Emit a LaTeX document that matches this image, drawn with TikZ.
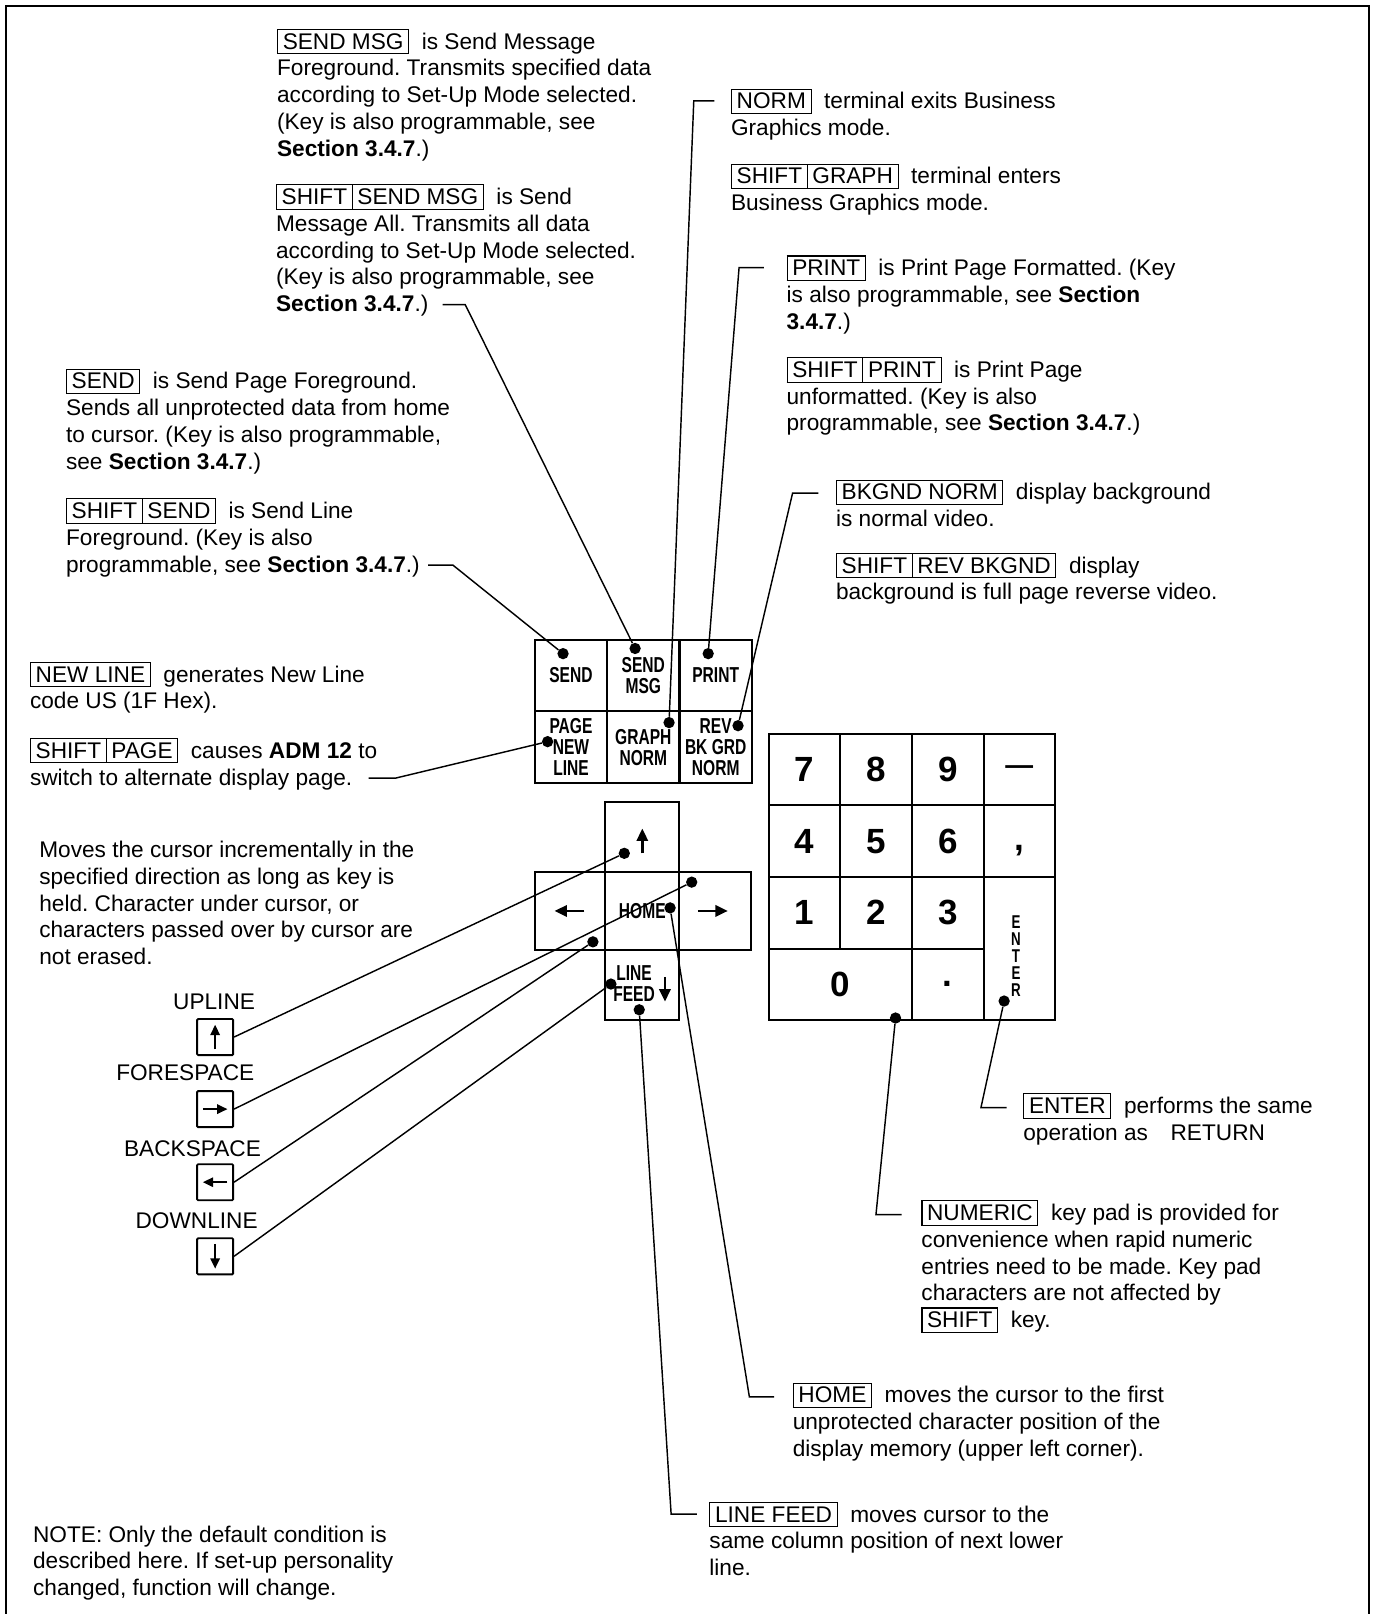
\documentclass[tikz,border=0pt]{standalone}
\usepackage{fontspec}
\setmainfont{Liberation Sans}
\newfontfamily\capfont[FakeStretch=0.72]{Liberation Sans}
\usetikzlibrary{arrows.meta}
\frenchspacing
\newcommand\kbox[1]{{\setlength\fboxsep{2.5pt}\setlength\fboxrule{1pt}\fbox{\rule[-1.5pt]{0pt}{17.5pt}\kern2pt#1\kern2pt}}}
\newcommand\kpair[2]{\kbox{#1}\kern-1pt\kbox{#2}}
\newcommand\sect{\textbf{Section 3.4.7}.)}

\begin{document}
\begin{tikzpicture}[x=1pt, y=-1pt,
    every node/.style={font=\fontsize{22}{26}\selectfont},
    txt/.style={anchor=north west, inner sep=0pt, align=left, execute at begin node=\rule{0pt}{20pt}},
    kt/.style={inner sep=0pt, align=center, font=\capfont\bfseries\fontsize{21}{20.4}\selectfont},
    kc/.style={kt, draw, line width=2pt},
    fk/.style={kc, minimum width=70.3pt, minimum height=69.5pt},
    nk/.style={draw, line width=2pt, inner sep=0pt, minimum width=69.5pt, minimum height=69.5pt, font=\bfseries\fontsize{34}{34}\selectfont},
    sk/.style={draw, line width=1.8pt, rounded corners=1pt, minimum size=35pt, inner sep=0pt},
    dot/.style={circle, fill, inner sep=0pt, minimum size=11pt},
    ldr/.style={line width=1.4pt},
    karr/.style={-{Triangle[length=12pt, width=11pt]}, line width=2.4pt},
    sarr/.style={-{Triangle[length=10pt, width=9pt]}, line width=2pt}
]
\useasboundingbox (0,0) rectangle (1333,1568);
\draw[line width=2.4pt] (6,1568) -- (6,6) -- (1330,6) -- (1330,1568);
% function keys
\node[fk] (ksend)  at (554.7,656.2) {SEND};
\node[fk] (kmsg)   at (625.0,656.2) {SEND\\MSG};
\node[fk] (kprint) at (695.3,656.2) {PRINT};
\node[fk] (kpage)  at (554.7,725.8) {PAGE\\NEW\\LINE};
\node[fk] (kgraph) at (625.0,725.8) {GRAPH\\NORM};
\node[fk] (krev)   at (695.3,725.8) {REV\\BK GRD\\NORM};
% cursor keys
\node[kc, minimum width=72pt, minimum height=68pt] (kup) at (624,813) {};
\node[kc, minimum width=68.5pt, minimum height=76pt] (kleft) at (553.75,885) {};
\node[kc, minimum width=72pt, minimum height=76pt] (khome) at (624,885) {HOME};
\node[kc, minimum width=70pt, minimum height=76pt] (kright) at (695,885) {};
\node[kc, minimum width=72pt, minimum height=68pt] (klf) at (624,957) {};
\node[kt] (llf) at (616,956) {LINE\\FEED};
\draw[karr] ([yshift=-16pt]kup.center) -- ([yshift=8pt]kup.center);
\draw[karr] ([xshift=14pt]kleft.center) -- ([xshift=-15pt]kleft.center);
\draw[karr] ([xshift=-17pt]kright.center) -- ([xshift=12pt]kright.center);
\draw[karr] ([xshift=22pt,yshift=8pt]klf.center) -- ([xshift=22pt,yshift=-16pt]klf.center);
% numeric pad
\node[nk] (n7) at (781.75,747.75) {7};
\node[nk] (n8) at (851.25,747.75) {8};
\node[nk] (n9) at (920.75,747.75) {9};
\node[nk] (nminus) at (990.25,747.75) {\fontsize{27}{27}\selectfont\textemdash};
\node[nk] (n4) at (781.75,817.25) {4};
\node[nk] (n5) at (851.25,817.25) {5};
\node[nk] (n6) at (920.75,817.25) {6};
\node[nk] (ncomma) at (990.25,817.25) {\vphantom{0},};
\node[nk] (n1) at (781.75,886.75) {1};
\node[nk] (n2) at (851.25,886.75) {2};
\node[nk] (n3) at (920.75,886.75) {3};
\node[nk, minimum width=139pt] (n0) at (816.5,956.25) {0};
\node[nk] (ndot) at (920.75,956.25) {.};
\node[nk, minimum height=139pt] (nent) at (990.25,921.5) {};
\node[kt, font=\capfont\bfseries\fontsize{18}{16.5}\selectfont] (lent) at (987,928.5) {E\\N\\T\\E\\R};
% dots
\node[dot] (dsend)  at (547,635) {};
\node[dot] (dmsg)   at (617,630) {};
\node[dot] (dprint) at (688,635) {};
\node[dot] (dpage)  at (532,720.5) {};
\node[dot] (dgraph) at (650,702) {};
\node[dot] (drev)   at (717,705) {};
\node[dot] (dup)    at (606.5,829) {};
\node[dot] (dfore)  at (672,857) {};
\node[dot] (dhome)  at (651,882) {};
\node[dot] (dback)  at (576,915) {};
\node[dot] (ddown)  at (593.5,956) {};
\node[dot] (dlf)    at (621,981) {};
\node[dot] (dnum)   at (870,989) {};
\node[dot] (denter) at (975.5,972.5) {};
% upper texts
\node[txt] (tmsg) at (269,28) {\kbox{SEND MSG}\ \ is Send Message\\Foreground. Transmits specified data\\according to Set-Up Mode selected.\\(Key is also programmable, see\\\sect};
\node[txt] (tsmsg) at (268,179) {\kpair{SHIFT}{SEND MSG}\ \ is Send\\Message All. Transmits all data\\according to Set-Up Mode selected.\\(Key is also programmable, see\\\sect};
\node[txt] (tnorm) at (710,86) {\kbox{NORM}\ \ terminal exits Business\\Graphics mode.};
\node[txt] (tsgraph) at (710,159) {\kpair{SHIFT}{GRAPH}\ \ terminal enters\\Business Graphics mode.};
\node[txt] (tprint) at (764,248) {\kbox{PRINT}\ \ is Print Page Formatted. (Key\\is also programmable, see \textbf{Section}\\\textbf{3.4.7}.)};
\node[txt] (tsprint) at (764,347) {\kpair{SHIFT}{PRINT}\ \ is Print Page\\unformatted. (Key is also\\programmable, see \sect};
\node[txt] (tsend) at (64,358) {\kbox{SEND}\ \ is Send Page Foreground.\\Sends all unprotected data from home\\to cursor. (Key is also programmable,\\see \sect};
\node[txt] (tssend) at (64,484) {\kpair{SHIFT}{SEND}\ \ is Send Line\\Foreground. (Key is also\\programmable, see \sect};
\node[txt] (tbk) at (812,466) {\kbox{BKGND NORM}\ \ display background\\is normal video.};
\node[txt] (tsrev) at (812,537) {\kpair{SHIFT}{REV BKGND}\ \ display\\background is full page reverse video.};
\node[txt] (tnl) at (29,643) {\kbox{NEW LINE}\ \ generates New Line\\code US (1F Hex).};
\node[txt] (tspage) at (29,717) {\kpair{SHIFT}{PAGE}\ \ causes \textbf{ADM 12} to\\switch to alternate display page.};
\node[txt] (tcur) at (38,817) {Moves the cursor incrementally in the\\specified direction as long as key is\\held. Character under cursor, or\\characters passed over by cursor are\\not erased.};
% leaders to upper texts
\coordinate (cmsg1) at (430,296);   \coordinate (cmsg2) at (452,296);
\coordinate (csend1) at (416,549);  \coordinate (csend2) at (440,549);
\coordinate (cnorm1) at (694,98);   \coordinate (cnorm2) at (674,98);
\coordinate (cprint1) at (742,260); \coordinate (cprint2) at (718,260);
\coordinate (cbk1) at (795,479);    \coordinate (cbk2) at (770,479);
\coordinate (cpage1) at (358,756);  \coordinate (cpage2) at (384,756);
\draw[ldr] (cmsg1) -- (cmsg2) -- (dmsg);
\draw[ldr] (csend1) -- (csend2) -- (dsend);
\draw[ldr] (cnorm1) -- (cnorm2) -- (dgraph);
\draw[ldr] (cprint1) -- (cprint2) -- (dprint);
\draw[ldr] (cbk1) -- (cbk2) -- (drev);
\draw[ldr] (cpage1) -- (cpage2) -- (dpage);
% cursor legend keys
\node (lup)   at (208,973)  {UPLINE};
\node (lfore) at (180,1042) {FORESPACE};
\node (lback) at (187,1116) {BACKSPACE};
\node (ldown) at (191,1186) {DOWNLINE};
\node[sk] (sup)   at (209,1007.5) {};
\node[sk] (sfore) at (209,1077.5) {};
\node[sk] (sback) at (209,1148.5) {};
\node[sk] (sdown) at (209,1220.5) {};
\draw[sarr] ([yshift=-12pt]sup.center) -- ([yshift=12pt]sup.center);
\draw[sarr] ([xshift=-12pt]sfore.center) -- ([xshift=12pt]sfore.center);
\draw[sarr] ([xshift=12pt]sback.center) -- ([xshift=-12pt]sback.center);
\draw[sarr] ([yshift=12pt]sdown.center) -- ([yshift=-12pt]sdown.center);
\draw[ldr] (sup.east) -- (dup);
\draw[ldr] (sfore.east) -- (dfore);
\draw[ldr] (sback.east) -- (dback);
\draw[ldr] (sdown.east) -- (ddown);
% lower texts
\node[txt] (tenter) at (994,1062) {\kbox{ENTER}\ \ performs the same\\operation as\quad RETURN};
\node[txt] (tnum) at (895,1166) {\kbox{NUMERIC}\ \ key pad is provided for\\convenience when rapid numeric\\entries need to be made. Key pad\\characters are not affected by\\\kbox{SHIFT}\ \ key.};
\node[txt] (thome) at (770,1343) {\kbox{HOME}\ \ moves the cursor to the first\\unprotected character position of the\\display memory (upper left corner).};
\node[txt] (tlf) at (689,1459) {\kbox{LINE FEED}\ \ moves cursor to the\\same column position of next lower\\line.};
\node[txt] (tnote) at (32,1482) {NOTE: Only the default condition is\\described here. If set-up personality\\changed, function will change.};
\coordinate (center1) at (953,1076); \coordinate (center2) at (978,1076);
\coordinate (cnum1) at (851,1180);   \coordinate (cnum2) at (876,1180);
\coordinate (chome1) at (728,1357);  \coordinate (chome2) at (752,1357);
\coordinate (clf1) at (652,1471);    \coordinate (clf2) at (677,1471);
\draw[ldr] (denter) -- (center1) -- (center2);
\draw[ldr] (dnum) -- (cnum1) -- (cnum2);
\draw[ldr] (dhome) -- (chome1) -- (chome2);
\draw[ldr] (dlf) -- (clf1) -- (clf2);
\end{tikzpicture}
\end{document}
